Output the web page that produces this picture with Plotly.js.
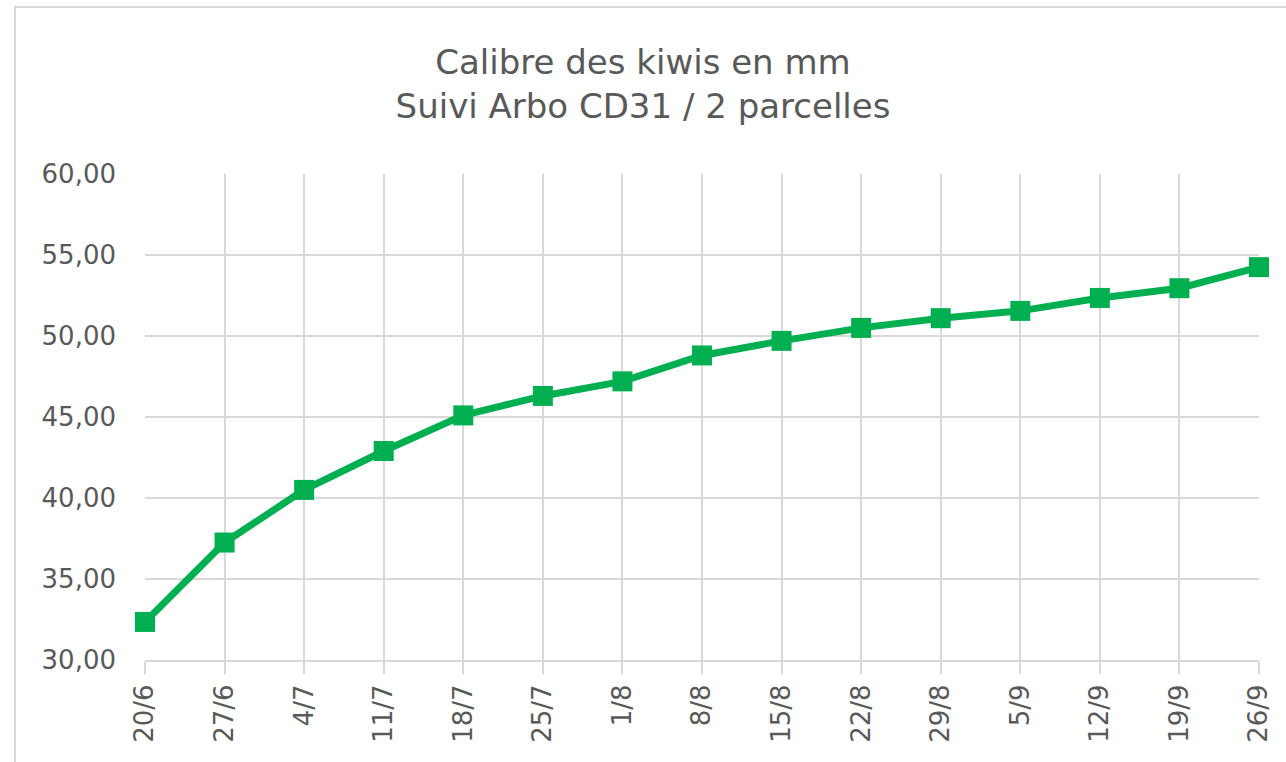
<!DOCTYPE html>
<html>
<head>
<meta charset="utf-8">
<script src="https://cdn.plot.ly/plotly-3.0.1.min.js"></script>
<style>
  html, body { margin: 0; padding: 0; background: #fff; }
  #chart { position: absolute; left: 0; top: 0; width: 1286px; height: 762px; }
  #frame { position: absolute; left: 14px; top: 6px; width: 1272px; height: 756px;
           border-left: 2px solid #d9d9d9; border-top: 2px solid #d9d9d9;
           box-sizing: border-box; pointer-events: none; }
</style>
</head>
<body>
<div id="chart"></div>
<div id="frame"></div>
<script>
const categories = ["20/6","27/6","4/7","11/7","18/7","25/7","1/8","8/8","15/8","22/8","29/8","5/9","12/9","19/9","26/9"];
const calibre = [32.35, 37.25, 40.5, 42.9, 45.1, 46.3, 47.2, 48.8, 49.7, 50.5, 51.1, 51.55, 52.35, 52.95, 54.25];
const yTicks = [30, 35, 40, 45, 50, 55, 60];
const titleText = "Calibre des kiwis en mm<br>Suivi Arbo CD31 / 2 parcelles";

const FONT = "'DejaVu Sans', Arial, sans-serif";

const trace = {
  type: "scatter",
  mode: "lines+markers",
  x: categories,
  y: calibre,
  line: { color: "#00b050", width: 7 },
  marker: { symbol: "square", size: 20, color: "#00b050" },
  cliponaxis: false,
  hoverinfo: "x+y"
};

const layout = {
  width: 1286,
  height: 762,
  margin: { l: 145, r: 27, t: 174, b: 102 },
  paper_bgcolor: "#ffffff",
  plot_bgcolor: "#ffffff",
  separators: ", ",
  showlegend: false,
  font: { family: FONT, color: "#595959" },
  title: {
    text: titleText,
    font: { size: 34, color: "#595959", family: FONT },
    x: 0.5, xref: "container", xanchor: "center",
    y: 0.903, yref: "container", yanchor: "top"
  },
  xaxis: {
    type: "category",
    range: [0, categories.length - 1],
    tickangle: -90,
    tickfont: { size: 26, color: "#595959", family: FONT },
    showgrid: true,
    gridcolor: "#d9d9d9",
    gridwidth: 2,
    ticks: "outside",
    ticklen: 12,
    tickwidth: 2,
    tickcolor: "#d9d9d9",
    showline: true,
    linecolor: "#d9d9d9",
    linewidth: 2,
    zeroline: false,
    fixedrange: true
  },
  yaxis: {
    range: [30, 60],
    tickvals: yTicks,
    tickformat: ".2f",
    tickfont: { size: 26, color: "#595959", family: FONT },
    showgrid: true,
    gridcolor: "#d9d9d9",
    gridwidth: 2,
    ticks: "",
    ticklabelstandoff: 28,
    showline: false,
    zeroline: false,
    fixedrange: true
  }
};

Plotly.newPlot("chart", [trace], layout, { displayModeBar: false, staticPlot: true });
</script>
</body>
</html>
